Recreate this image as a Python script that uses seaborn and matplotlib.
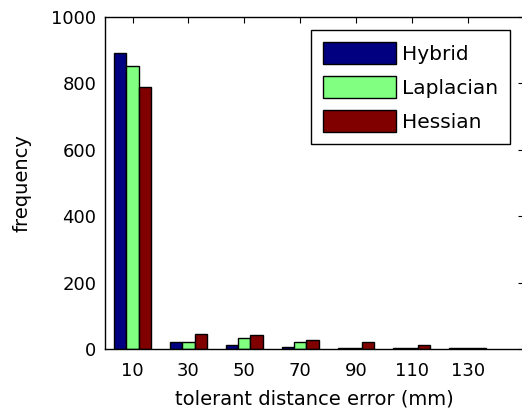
import matplotlib
matplotlib.use("Agg")
import matplotlib.pyplot as plt
import seaborn as sns
import pandas as pd

categories = [10, 30, 50, 70, 90, 110, 130]
hybrid = [890, 22, 12, 6, 3, 2, 3]
laplacian = [852, 20, 32, 21, 3, 2, 3]
hessian = [787, 44, 42, 27, 22, 13, 3]
series_names = ["Hybrid", "Laplacian", "Hessian"]
colors = ["#000080", "#80FF80", "#800000"]

rows = []
for name, vals in zip(series_names, [hybrid, laplacian, hessian]):
    for c, v in zip(categories, vals):
        rows.append({"err": c, "freq": v, "method": name})
df = pd.DataFrame(rows)

sns.set_style("white")
plt.rcParams["font.family"] = ["DejaVu Sans"]
plt.rcParams["text.color"] = "black"
plt.rcParams["axes.labelcolor"] = "black"
plt.rcParams["xtick.color"] = "black"
plt.rcParams["ytick.color"] = "black"

fig = plt.figure(figsize=(5.22, 4.15), dpi=100)
ax = fig.add_axes([104.7 / 522, 66 / 415, (523.5 - 104.7) / 522, (349 - 16.7) / 415])

sns.barplot(data=df, x="err", y="freq", hue="method", hue_order=series_names,
            palette=colors, native_scale=True, width=0.66, dodge=True,
            edgecolor="black", linewidth=1.0, saturation=1, ax=ax, errorbar=None)

ax.set_xlim(0, 150)
ax.set_ylim(0, 1000)
ax.set_xticks(categories)
ax.set_xticklabels([str(c) for c in categories])
ax.set_yticks([0, 200, 400, 600, 800, 1000])
ax.tick_params(direction="in", length=4, width=0.8, top=True, right=True,
               labelsize=13, colors="black")
ax.tick_params(axis="x", pad=9)
ax.tick_params(axis="y", pad=6)
for s in ax.spines.values():
    s.set_visible(True)
    s.set_color("black")
    s.set_linewidth(1.0)

ax.set_xlabel("tolerant distance error (mm)", fontsize=14, labelpad=7, color="black")
ax.set_ylabel("frequency", fontsize=14, labelpad=14, color="black")

handles, labels = ax.get_legend_handles_labels()
leg = ax.legend(handles, labels, loc="upper right",
                bbox_to_anchor=(510 / 522, 1 - 30 / 415), bbox_transform=fig.transFigure,
                fontsize=14.5, handlelength=3.6, handleheight=1.28, labelspacing=0.62,
                handletextpad=0.3, borderpad=0.6, borderaxespad=0,
                fancybox=False, framealpha=1, edgecolor="black", frameon=True)
leg.get_frame().set_linewidth(1.0)
for t in leg.get_texts():
    t.set_color("black")

fig.savefig("out.png", dpi=100)
